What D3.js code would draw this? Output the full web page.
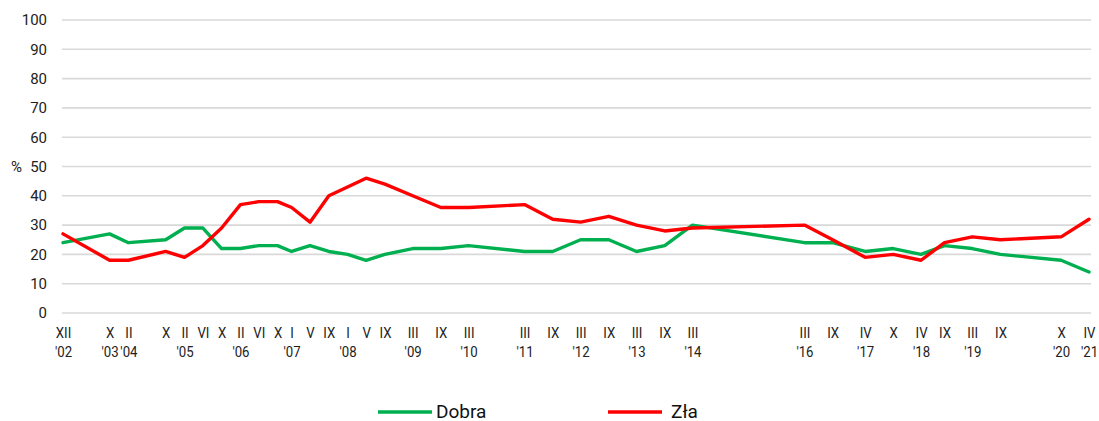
<!DOCTYPE html>
<html>
<head>
<meta charset="utf-8">
<script src="https://cdn.jsdelivr.net/npm/d3@7/dist/d3.min.js"></script>
<style>
  html, body { margin: 0; padding: 0; background: #fff; }
  svg { display: block; font-family: Roboto, "Noto Sans", sans-serif; }
</style>
</head>
<body>
<svg id="chart" width="1099" height="421"></svg>
<script>
const dates = ["2002-12","2003-10","2004-02","2004-10","2005-02","2005-06","2005-10","2006-02","2006-06","2006-10",
  "2007-01","2007-05","2007-09","2008-01","2008-05","2008-09","2009-03","2009-09","2010-03","2011-03",
  "2011-09","2012-03","2012-09","2013-03","2013-09","2014-03","2016-03","2016-09","2017-04","2017-10",
  "2018-04","2018-09","2019-03","2019-09","2020-10","2021-04"];
const monthLabels = ["XII","X","II","X","II","VI","X","II","VI","X",
  "I","V","IX","I","V","IX","III","IX","III","III",
  "IX","III","IX","III","IX","III","III","IX","IV","X",
  "IV","IX","III","IX","X","IV"];
const yearLabels = ["'02","'03","'04","","'05","","","'06","","",
  "'07","","","'08","","","'09","","'10","'11",
  "","'12","","'13","","'14","'16","","'17","",
  "'18","","'19","","'20","'21"];
const dobra = [24,27,24,25,29,29,22,22,23,23,
  21,23,21,20,18,20,22,22,23,21,
  21,25,25,21,23,30,24,24,21,22,
  20,23,22,20,18,14];
const zla = [27,18,18,21,19,23,29,37,38,38,
  36,31,40,43,46,44,40,36,36,37,
  32,31,33,30,28,29,30,25,19,20,
  18,24,26,25,26,32];
const yTicks = [0,10,20,30,40,50,60,70,80,90,100];
const seriesNames = ["Dobra","Zła"];
const seriesColors = ["#00b050","#ff0000"];

const parse = d3.timeParse("%Y-%m");
const dt = dates.map(parse);

const svg = d3.select("#chart");
const x = d3.scaleTime().domain([dt[0], dt[dt.length-1]]).range([63, 1089]);
const y = d3.scaleLinear().domain([0,100]).range([313, 20]);

// gridlines
svg.append("g").selectAll("line").data(yTicks).join("line")
  .attr("x1", 62).attr("x2", 1091)
  .attr("y1", d => y(d)).attr("y2", d => y(d))
  .attr("stroke", "#d9d9d9").attr("stroke-width", 1.6);

// y axis labels
const yAxis = d3.axisLeft(y).tickValues(yTicks).tickSize(0).tickPadding(0);
const yg = svg.append("g").attr("transform", "translate(47,0)").call(yAxis);
yg.select(".domain").remove();
yg.selectAll("text").attr("font-size", 15).attr("fill", "#222").attr("font-family", "Roboto, sans-serif");

svg.append("text").attr("x", 11).attr("y", y(50)).attr("dy", "0.35em")
  .attr("font-size", 15).attr("fill", "#222").text("%");

// x axis labels (two rows)
const xAxis = d3.axisBottom(x).tickValues(dt).tickSize(0).tickPadding(0)
  .tickFormat((d, i) => monthLabels[i]);
const xg = svg.append("g").attr("transform", "translate(0,0)").call(xAxis);
xg.select(".domain").remove();
xg.selectAll("text").attr("font-size", 15).attr("fill", "#222")
  .attr("font-family", "Roboto, sans-serif")
  .attr("y", 338).attr("dy", 0)
  .attr("transform", "scale(0.88,1)");
xg.selectAll(".tick").each(function(d, i) {
  d3.select(this).append("text")
    .attr("fill", "#222").attr("font-size", 15)
    .attr("font-family", "Roboto, sans-serif")
    .attr("text-anchor", "middle")
    .attr("transform", "scale(0.88,1)")
    .attr("y", 357.5)
    .text(yearLabels[i]);
});

// lines
const series = [dobra, zla];
const line = d3.line().x((d, i) => x(dt[i])).y(d => y(d));
svg.append("g").selectAll("path").data(series).join("path")
  .attr("d", d => line(d))
  .attr("fill", "none")
  .attr("stroke", (d, i) => seriesColors[i])
  .attr("stroke-width", 3.4)
  .attr("stroke-linejoin", "round")
  .attr("stroke-linecap", "round");

// legend
const legendX = [378, 608];
const lg = svg.append("g").selectAll("g").data(seriesNames).join("g")
  .attr("transform", (d, i) => `translate(${legendX[i]},412)`);
lg.append("line").attr("x1", 0).attr("x2", 54).attr("y1", 0).attr("y2", 0)
  .attr("stroke", (d, i) => seriesColors[i]).attr("stroke-width", 3.4);
lg.append("text").attr("x", (d, i) => i === 0 ? 58 : 63).attr("y", 5.5)
  .attr("font-size", 19).attr("fill", "#111").text(d => d);
</script>
</body>
</html>
